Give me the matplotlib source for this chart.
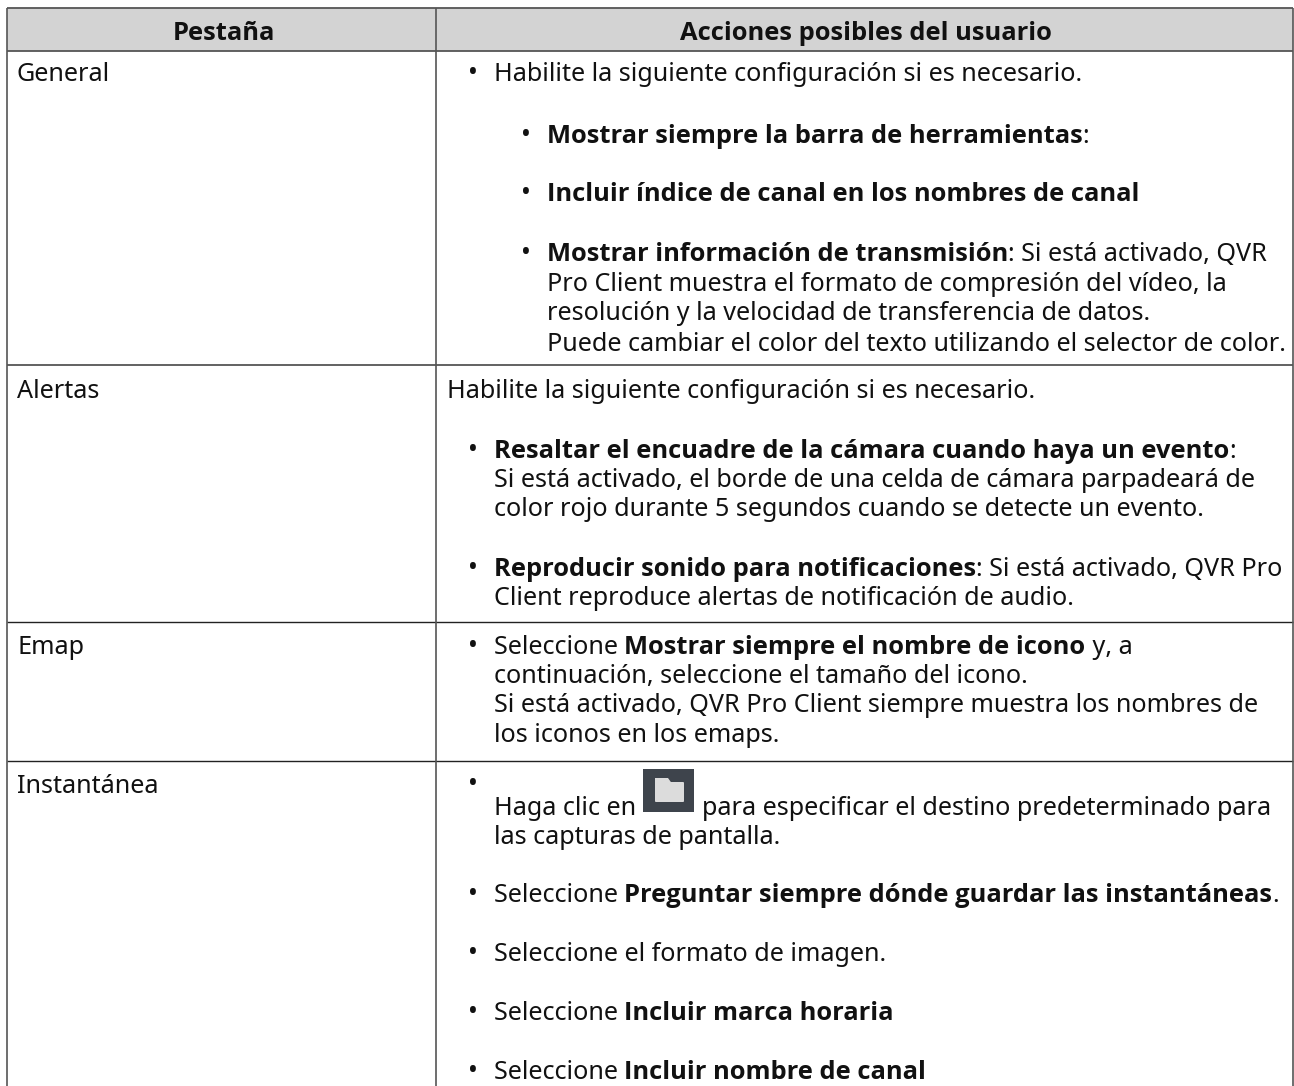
import matplotlib
matplotlib.use('Agg')
import matplotlib.pyplot as plt
from matplotlib import font_manager as fm
from matplotlib.patches import Rectangle, FancyBboxPatch, Polygon

plt.rcParams['font.family'] = ['Noto Sans', 'DejaVu Sans']

headers = ['Pestaña', 'Acciones posibles del usuario']
tabs = ['General', 'Alertas', 'Emap', 'Instantánea']

# each line is a list of (text, bold) runs
general_lines = [
    [('Habilite la siguiente configuración si es necesario.', False)],
    [('Mostrar siempre la barra de herramientas', True), (':', False)],
    [('Incluir índice de canal en los nombres de canal', True)],
    [('Mostrar información de transmisión', True), (': Si está activado, QVR', False)],
    [('Pro Client muestra el formato de compresión del vídeo, la', False)],
    [('resolución y la velocidad de transferencia de datos.', False)],
    [('Puede cambiar el color del texto utilizando el selector de color.', False)],
]
alertas_lines = [
    [('Habilite la siguiente configuración si es necesario.', False)],
    [('Resaltar el encuadre de la cámara cuando haya un evento', True), (':', False)],
    [('Si está activado, el borde de una celda de cámara parpadeará de', False)],
    [('color rojo durante 5 segundos cuando se detecte un evento.', False)],
    [('Reproducir sonido para notificaciones', True), (': Si está activado, QVR Pro', False)],
    [('Client reproduce alertas de notificación de audio.', False)],
]
emap_lines = [
    [('Seleccione ', False), ('Mostrar siempre el nombre de icono', True), (' y, a', False)],
    [('continuación, seleccione el tamaño del icono.', False)],
    [('Si está activado, QVR Pro Client siempre muestra los nombres de', False)],
    [('los iconos en los emaps.', False)],
]
inst_lines = [
    [('Haga clic en', False)],
    [('para especificar el destino predeterminado para', False)],
    [('las capturas de pantalla.', False)],
    [('Seleccione ', False), ('Preguntar siempre dónde guardar las instantáneas', True), ('.', False)],
    [('Seleccione el formato de imagen.', False)],
    [('Seleccione ', False), ('Incluir marca horaria', True)],
    [('Seleccione ', False), ('Incluir nombre de canal', True)],
]
all_lines = general_lines + alertas_lines + emap_lines + inst_lines

# layout: x start, baseline y, bullet centre x (None = no bullet)
IND1, IND2 = 494, 547
B1, B2 = 473, 526
layout = [
    (IND1, 81, B1), (IND2, 143, B2), (IND2, 201, B2), (IND2, 261, B2),
    (IND2, 291, None), (IND2, 320, None), (IND2, 351, None),
    (447, 398, None), (IND1, 458, B1), (IND1, 487, None), (IND1, 516, None),
    (IND1, 576, B1), (IND1, 605, None),
    (IND1, 654, B1), (IND1, 683, None), (IND1, 712, None), (IND1, 742, None),
    (IND1, 815, None), (702, 815, None), (IND1, 844, None),
    (IND1, 902, B1), (IND1, 961, B1), (IND1, 1020, B1), (IND1, 1079, B1),
]

# pick a family that really ships a bold face
bold_family = 'DejaVu Sans'
for fam in ['Noto Sans', 'Open Sans', 'Lato', 'Roboto', 'Liberation Sans']:
    faces = [f for f in fm.fontManager.ttflist if f.name == fam]
    if any(f.weight in ('bold', 700, 'semibold', 600) for f in faces):
        bold_family = fam
        break

FS = 18.12
FS_BOLD = 18.35
INK = '#111111'

fig = plt.figure(figsize=(12.94, 10.86), dpi=100)
ax = fig.add_axes([0, 0, 1, 1])
ax.set_xlim(0, 1294)
ax.set_ylim(1086, 0)
ax.axis('off')

# header band and table rules
ax.add_patch(Rectangle((7, 8), 1286, 43, fc='#d3d3d3', ec='none'))
for y in [8, 51, 365]:
    ax.plot([7, 1293], [y, y], color='#555555', lw=1.3, solid_capstyle='butt')
for y in [622, 761]:
    ax.plot([7, 1293], [y, y], color='#222222', lw=1.0, solid_capstyle='butt')
for x in [7, 436, 1293]:
    ax.plot([x, x], [8, 1086], color='#555555', lw=1.2, solid_capstyle='butt')

for t, x in zip(headers, [224, 866]):
    ax.text(x, 40, t, fontsize=FS_BOLD, fontweight='bold', family=bold_family,
            ha='center', va='baseline', color=INK)

for t, y in zip(tabs, [81, 398, 654, 793]):
    ax.text(17, y, t, fontsize=FS, va='baseline', color=INK)

fig.canvas.draw()
r = fig.canvas.get_renderer()


def draw_runs(x, y, runs):
    for s, bold in runs:
        kw = {'fontweight': 'bold', 'family': bold_family, 'fontsize': FS_BOLD} if bold else {'fontsize': FS}
        ax.text(x, y, s, va='baseline', color=INK, **kw)
        # trailing spaces are dropped from the extent, so measure with a stop char
        probe = ax.text(0, 0, s + '|', **kw)
        bar = ax.text(0, 0, '|', **kw)
        x += probe.get_window_extent(r).width - bar.get_window_extent(r).width
        probe.remove()
        bar.remove()


def draw_bullet(x, y):
    ax.text(x, y, '•', fontsize=19, ha='center', va='baseline', color=INK)


for line, (x, y, bx) in zip(all_lines, layout):
    draw_runs(x, y, line)
    if bx is not None:
        draw_bullet(bx, y)

# lone bullet above the folder icon line
draw_bullet(B1, 792)

# folder icon
ax.add_patch(Rectangle((643, 769), 51, 43, fc='#3e444c', ec='none'))
ax.add_patch(FancyBboxPatch((656, 783), 27, 18, boxstyle='round,pad=1', fc='#dcdcdc', ec='none'))
ax.add_patch(Polygon([(655, 785), (655, 778), (668, 778), (673, 785)], closed=True, fc='#dcdcdc', ec='none'))

fig.savefig('out.png', dpi=100)
